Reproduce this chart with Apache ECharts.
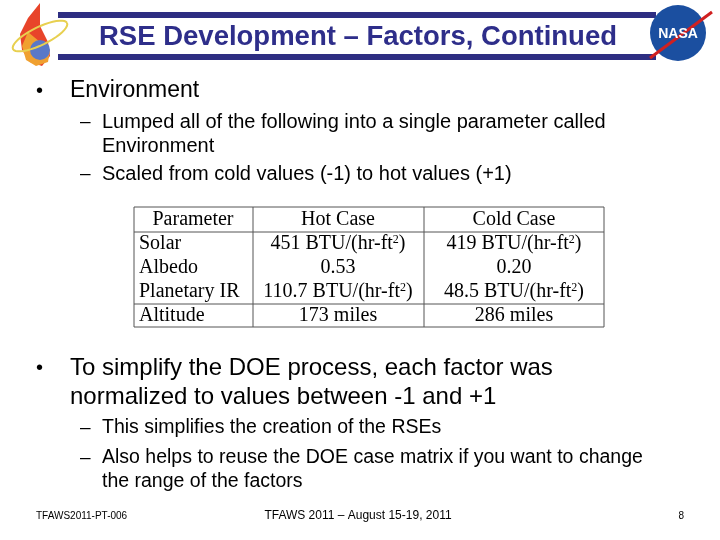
<!DOCTYPE html>
<html><head><meta charset="utf-8">
<script src="https://cdn.jsdelivr.net/npm/echarts@6/dist/echarts.min.js"></script>
<style>html,body{margin:0;padding:0;background:#fff}#c{width:720px;height:540px}</style>
</head><body><div id="c"></div>
<script>
const title = 'RSE Development – Factors, Continued';
const bullets1 = ['Environment'];
const subs1 = ['Lumped all of the following into a single parameter called', 'Environment', 'Scaled from cold values (-1) to hot values (+1)'];
const tableHeader = ['Parameter', 'Hot Case', 'Cold Case'];
const tableParams = ['Solar', 'Albedo', 'Planetary IR', 'Altitude'];
const hotCase = ['451 BTU/(hr-ft{s|2})', '0.53', '110.7 BTU/(hr-ft{s|2})', '173 miles'];
const coldCase = ['419 BTU/(hr-ft{s|2})', '0.20', '48.5 BTU/(hr-ft{s|2})', '286 miles'];
const bullet2 = ['To simplify the DOE process, each factor was', 'normalized to values between -1 and +1'];
const subs2 = ['This simplifies the creation of the RSEs', 'Also helps to reuse the DOE case matrix if you want to change', 'the range of the factors'];
const footer = ['TFAWS2011-PT-006', 'TFAWS 2011 – August 15-19, 2011', '8'];

const chart = echarts.init(document.getElementById('c'));
const g = [];
const sans = 'Liberation Sans, Arial, sans-serif';
const serif = 'Liberation Serif, Times New Roman, serif';
function txt(x, y, t, size, opts) {
  opts = opts || {};
  const st = {text:t, fontSize:size, fontFamily:opts.ff||sans, fill:opts.fill||'#000', fontWeight:opts.fw||'normal', align:opts.align||'left', verticalAlign:'middle'};
  if (opts.rich) st.rich = opts.rich;
  g.push({type:'text', x:x, y:y, style:st});
}
function rect(x,y,w,h,fill){g.push({type:'rect',shape:{x,y,width:w,height:h},style:{fill}});}
function line(x1,y1,x2,y2){g.push({type:'line',shape:{x1,y1,x2,y2},style:{stroke:'#555',lineWidth:1}});}
// header bars
rect(58,12,598,6,'#2e2e82');
rect(58,54,598,6,'#2e2e82');
txt(358,37,title,27.5,{fw:'bold',fill:'#2e2e8a',align:'center'});
// left logo
g.push({type:'polygon',shape:{points:[[40,3],[28,18],[20,34],[22,50],[30,62],[42,66],[50,56],[48,42],[40,26]]},style:{fill:'#e8442a'}});
g.push({type:'polygon',shape:{points:[[28,32],[22,46],[26,60],[36,66],[48,62],[50,50],[40,42]]},style:{fill:'#f0a030'}});
g.push({type:'circle',shape:{cx:40,cy:50,r:10},style:{fill:'#5a78c8'}});
const ell=[];for(let k=0;k<=40;k++){const a=k/40*2*Math.PI;const ex=30*Math.cos(a),ey=9*Math.sin(a);ell.push([40+ex*Math.cos(-0.45)-ey*Math.sin(-0.45),36+ex*Math.sin(-0.45)+ey*Math.cos(-0.45)]);}
g.push({type:'polyline',shape:{points:ell},style:{fill:'none',stroke:'#e8d050',lineWidth:2}});
// NASA logo
g.push({type:'circle',shape:{cx:678,cy:33,r:28},style:{fill:'#1b4fa0'}});
g.push({type:'line',shape:{x1:650,y1:58,x2:712,y2:12},style:{stroke:'#d02020',lineWidth:3}});
txt(678,34,'NASA',14,{fw:'bold',fill:'#fff',align:'center'});
// bullets
txt(36,91,'•',20,{}); txt(70,91,bullets1[0],23,{});
txt(80,122,'–',19,{}); txt(102,122,subs1[0],20,{});
txt(102,146,subs1[1],20,{});
txt(80,174,'–',19,{}); txt(102,174,subs1[2],20,{});
// table
const colX=[134,253,424,604];
line(134,207,604,207); line(134,232,604,232); line(134,304,604,304); line(134,327,604,327);
colX.forEach(x=>line(x,207,x,327));
const rich={s:{fontSize:12,verticalAlign:'top',padding:[0,0,9,0],fontFamily:serif}};
txt(193,220,tableHeader[0],20,{ff:serif,align:'center'});
txt(338,220,tableHeader[1],20,{ff:serif,align:'center'});
txt(514,220,tableHeader[2],20,{ff:serif,align:'center'});
const rc=[244,268,292,316];
tableParams.forEach((p,i)=>{
  txt(139,rc[i],p,20,{ff:serif});
  txt(338,rc[i],hotCase[i],20,{ff:serif,align:'center',rich:rich});
  txt(514,rc[i],coldCase[i],20,{ff:serif,align:'center',rich:rich});
});
txt(36,368,'•',20,{}); txt(70,368,bullet2[0],24,{});
txt(70,397,bullet2[1],24,{});
txt(80,428,'–',19,{}); txt(102,428,subs2[0],19.5,{});
txt(80,458,'–',19,{}); txt(102,458,subs2[1],19.5,{});
txt(102,482,subs2[2],19.5,{});
txt(36,516,footer[0],10,{});
txt(358,516,footer[1],12,{align:'center'});
txt(684,516,footer[2],10,{align:'right'});
chart.setOption({animation:false,graphic:{elements:g}});
</script></body></html>
